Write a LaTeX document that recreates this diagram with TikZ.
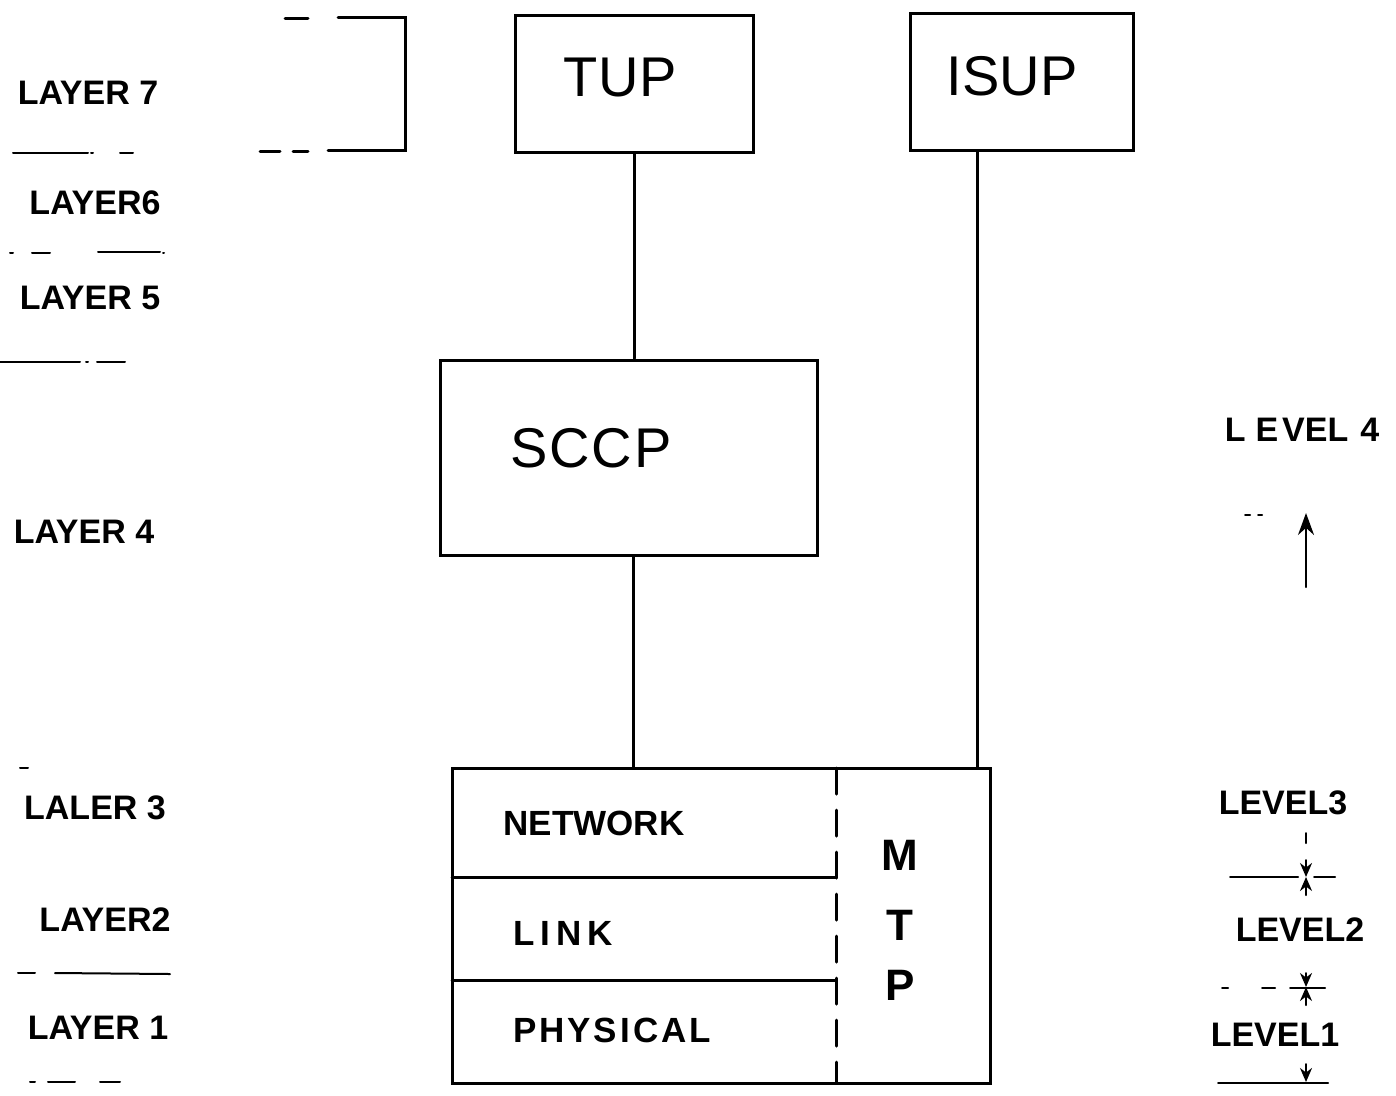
\documentclass[tikz,border=0pt]{standalone}
\usepackage{fontspec}
\setmainfont{Liberation Sans}
\usetikzlibrary{arrows.meta}
\begin{document}
\begin{tikzpicture}[x=1pt,y=-1pt,line width=3pt,line cap=round,
  boxstyle/.style={draw,rectangle,inner sep=0pt},
  big/.style={font=\fontsize{56}{60}\selectfont},
  mid/.style={font=\fontsize{35}{40}\selectfont\bfseries},
  lbl/.style={font=\fontsize{34}{38}\selectfont\bfseries},
  thin/.style={line width=2pt},
  tip/.style={-{Stealth[length=14pt,width=12pt]}},
  bigtip/.style={-{Stealth[length=22pt,width=16pt]}}]
\useasboundingbox (0,0) rectangle (1396,1095);
% boxes
\node[boxstyle,minimum width=238pt,minimum height=137pt] (tup) at (634,83.5) {};
\node[big] (tuptxt) at (620,78) {T\kern1pt U\kern1pt P};
\node[boxstyle,minimum width=223pt,minimum height=137pt] (isup) at (1021.5,81.5) {};
\node[big] (isuptxt) at (1012,76) {ISUP};
\node[boxstyle,minimum width=377pt,minimum height=195pt] (sccp) at (628.5,457.5) {};
\node[big] (sccptxt) at (591,448) {S\kern2pt C\kern2pt C\kern2pt P};
\node[boxstyle,minimum width=538pt,minimum height=315pt] (mtp) at (721,925.5) {};
% connectors
\draw (tup.south) -- (tup.south |- sccp.north);
\draw ([xshift=5pt]sccp.south) -- ([xshift=5pt]sccp.south |- mtp.north);
\draw ([xshift=-44.5pt]isup.south) -- ([xshift=-44.5pt]isup.south |- mtp.north);
% MTP internals
\coordinate (dtop) at (836,768);
\coordinate (dbot) at (836,1083);
\draw[dash pattern=on 26pt off 16pt] (dtop) -- (dbot);
\coordinate (n1) at (452,877);
\coordinate (n2) at (452,980);
\draw (n1) -- (n1 -| dtop);
\draw (n2) -- (n2 -| dtop);
\node[mid] (net) at (594,823) {NETWORK};
\node[mid] (link) at (563,933) {L\kern6pt I\kern6pt N\kern6pt K};
\node[mid] (phys) at (612,1030) {P\kern3pt H\kern3pt Y\kern3pt S\kern3pt I\kern3pt C\kern3pt A\kern3pt L};
\node[font=\fontsize{44}{48}\selectfont\bfseries] (m) at (900,855) {M};
\node[font=\fontsize{44}{48}\selectfont\bfseries] (t) at (900,925) {T};
\node[font=\fontsize{44}{48}\selectfont\bfseries] (p) at (900,985) {P};
% layer 7 bracket
\coordinate (b1) at (338,17);
\coordinate (b2) at (405,17);
\coordinate (b3) at (405,150);
\coordinate (b4) at (328,150);
\draw (b1) -- (b2) -- (b3) -- (b4);
\coordinate (d1a) at (285,18); \coordinate (d1b) at (308,18);
\draw (d1a) -- (d1b);
\coordinate (d2a) at (260,151); \coordinate (d2b) at (280,151);
\coordinate (d3a) at (293,151); \coordinate (d3b) at (308,151);
\draw (d2a) -- (d2b); \draw (d3a) -- (d3b);
% left labels
\node[lbl] (l7) at (88,93) {LAYER 7};
\node[lbl] (l6) at (95,203) {LAYER6};
\node[lbl] (l5) at (90,298) {LAYER 5};
\node[lbl] (l4) at (84,532) {LAYER 4};
\node[lbl] (l3) at (95,808) {LALER 3};
\node[lbl] (l2) at (105,920) {LAYER2};
\node[lbl] (l1) at (98,1028) {LAYER 1};
% left separators
\begin{scope}[thin]
\draw (13,153) -- (88,153); \draw (91,153) -- (93,153); \draw (120,153) -- (133,153);
\draw (10,253) -- (13,253); \draw (32,253) -- (50,253); \draw (98,252) -- (160,252); \draw (163,253) -- (164,253);
\draw (0,362) -- (80,362); \draw (86,362) -- (88,362); \draw (97,362) -- (125,362);
\draw (20,768) -- (28,768);
\draw (18,973) -- (35,973); \draw (55,973) -- (170,974);
\draw (30,1082) -- (35,1082); \draw (48,1082) -- (75,1082); \draw (100,1082) -- (120,1082);
\end{scope}
% right labels
\node[lbl] (v4) at (1302,430) {L\hspace{10pt}E\hspace{4pt}VEL\hspace{12pt}4};
\node[lbl] (v3) at (1283,803) {LEVEL3};
\node[lbl] (v2) at (1300,930) {LEVEL2};
\node[lbl] (v1) at (1275,1035) {LEVEL1};
% right markers
\begin{scope}[thin]
\draw (1245,515) -- (1250,515); \draw (1258,515) -- (1262,515);
\coordinate (a4s) at (1306,587); \coordinate (a4e) at (1306,513);
\draw[bigtip] (a4s) -- (a4e);
\draw (1306,833) -- (1306,843);
\draw (1230,877) -- (1298,877); \draw (1314,877) -- (1335,877);
\coordinate (a3t) at (1306,860); \coordinate (a3m) at (1306,877); \coordinate (a3b) at (1306,895);
\draw[tip] (a3t) -- (a3m); \draw[tip] (a3b) -- (a3m);
\draw (1222,988) -- (1228,988); \draw (1262,988) -- (1275,988); \draw (1290,988) -- (1325,988);
\coordinate (a2t) at (1306,973); \coordinate (a2m) at (1306,987); \coordinate (a2b) at (1306,1005);
\draw[tip] (a2t) -- (a2m); \draw[tip] (a2b) -- (a2m);
\draw (1218,1083) -- (1328,1083);
\coordinate (a1t) at (1306,1064); \coordinate (a1m) at (1306,1082);
\draw[tip] (a1t) -- (a1m);
\end{scope}
\end{tikzpicture}
\end{document}
